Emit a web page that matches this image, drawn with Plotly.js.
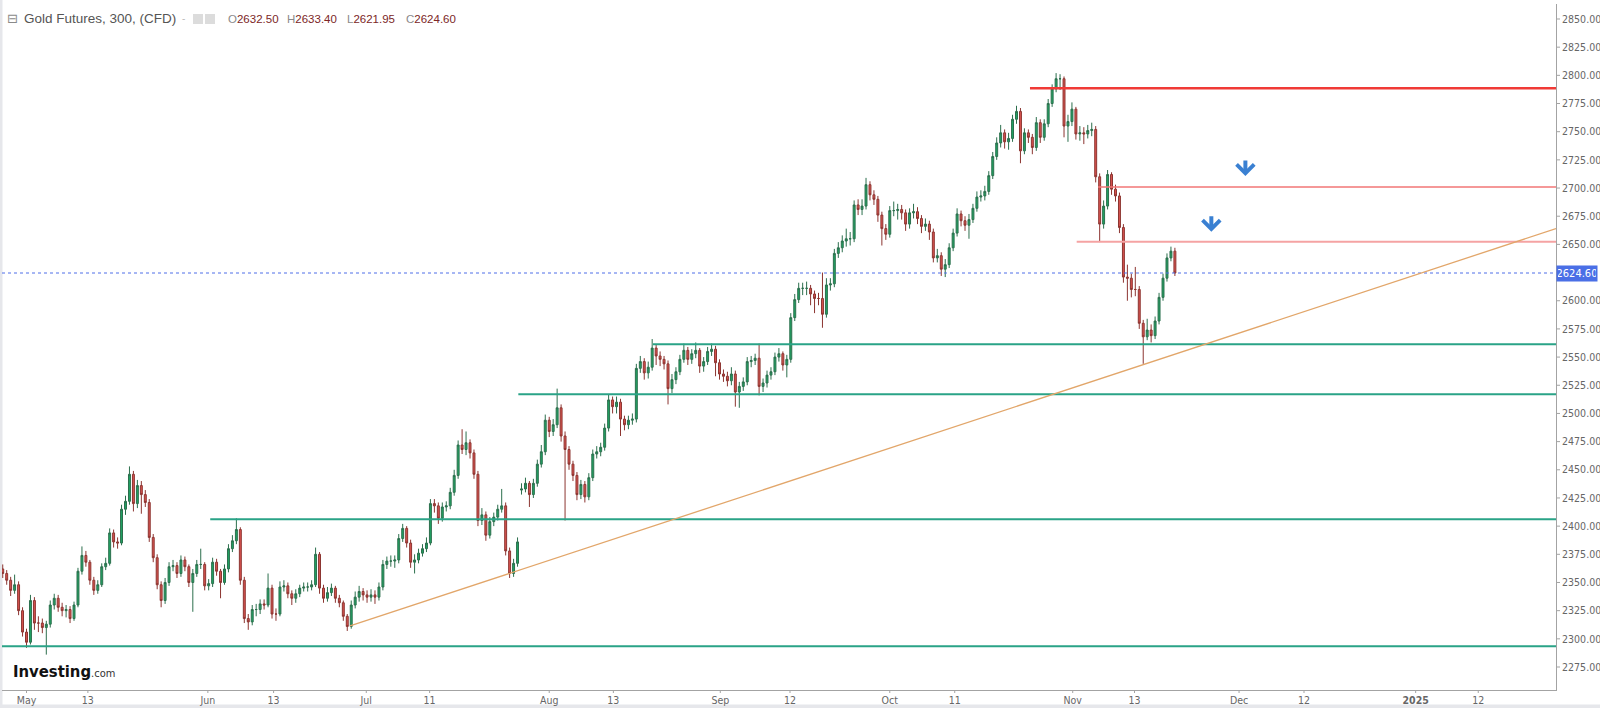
<!DOCTYPE html>
<html>
<head>
<meta charset="utf-8">
<script src="https://cdn.plot.ly/plotly-3.0.1.min.js"></script>
<style>
html,body{margin:0;padding:0;background:#fff;}
#chart{width:1600px;height:708px;}
</style>
</head>
<body>
<div id="chart"></div>
<script>
// ---- DATA ----
// candles: half trading-day steps, first candle 3 trading days before May 1
const firstOpen = 2362;
const gapOpens = {131: 2432}; // contract roll gap
const closes = [
2358,2352,2343,2348,2325,2306,2297,2334,2314,2314,
2310,2313,2330,2336,2328,2325,2326,2318,2330,2360,
2374,2368,2352,2343,2348,2364,2367,2394,2386,2385,
2415,2422,2446,2420,2436,2428,2421,2390,2372,2348,
2334,2350,2364,2365,2358,2370,2364,2350,2358,2366,
2366,2347,2349,2368,2360,2350,2362,2380,2387,2397,
2352,2318,2315,2326,2326,2331,2330,2345,2322,2322,
2346,2347,2340,2336,2340,2345,2346,2346,2348,2375,
2345,2336,2341,2345,2336,2332,2320,2311,2330,2337,
2342,2339,2337,2339,2337,2346,2366,2369,2369,2370,
2389,2398,2385,2368,2370,2376,2380,2385,2420,2418,
2407,2417,2418,2430,2445,2472,2468,2474,2465,2446,
2405,2410,2392,2404,2408,2415,2418,2378,2358,2367,
2386,2433,2438,2428,2438,2455,2466,2494,2484,2490,
2505,2480,2468,2455,2445,2428,2437,2426,2443,2464,
2466,2470,2487,2512,2506,2510,2495,2490,2494,2495,
2540,2546,2536,2541,2558,2551,2548,2544,2522,2530,
2537,2548,2556,2548,2553,2556,2542,2546,2555,2557,
2545,2535,2533,2529,2535,2519,2524,2528,2546,2547,
2549,2524,2527,2534,2537,2550,2553,2543,2548,2585,
2601,2611,2611,2611,2606,2602,2602,2588,2614,2615,
2642,2647,2653,2655,2655,2685,2681,2684,2703,2694,
2690,2676,2664,2659,2680,2680,2681,2678,2668,2678,
2679,2673,2666,2668,2661,2638,2640,2628,2632,2647,
2660,2677,2671,2667,2672,2682,2692,2693,2697,2711,
2728,2740,2749,2741,2744,2761,2768,2733,2749,2745,
2736,2758,2745,2757,2775,2788,2797,2797,2755,2759,
2770,2748,2749,2748,2751,2752,2710,2668,2684,2712,
2699,2693,2665,2621,2620,2610,2610,2580,2568,2574,
2569,2582,2603,2620,2638,2644,2624.6
];
const highs = [
2366,2361,2355,2357,2351,2328,2309,2339,2337,2320,
2318,2316,2334,2340,2339,2332,2330,2329,2333,2363,
2382,2378,2370,2355,2352,2367,2372,2398,2397,2390,
2419,2427,2453,2449,2441,2440,2432,2424,2393,2375,
2351,2354,2368,2370,2368,2374,2373,2366,2362,2370,
2380,2368,2353,2372,2371,2362,2366,2384,2392,2407,
2399,2355,2322,2330,2331,2335,2335,2358,2348,2327,
2351,2352,2350,2343,2344,2348,2350,2350,2352,2381,
2377,2348,2346,2349,2347,2339,2334,2322,2334,2342,
2347,2345,2343,2344,2343,2350,2370,2373,2374,2374,
2393,2402,2400,2388,2375,2380,2384,2390,2424,2424,
2421,2421,2422,2434,2450,2476,2486,2484,2477,2468,
2449,2416,2413,2408,2412,2419,2433,2421,2381,2371,
2390,2438,2443,2440,2442,2459,2472,2499,2497,2495,
2522,2508,2484,2471,2458,2448,2441,2440,2447,2468,
2471,2474,2491,2517,2515,2515,2513,2498,2498,2500,
2544,2551,2549,2546,2566,2561,2555,2551,2547,2535,
2541,2552,2562,2559,2557,2563,2558,2550,2559,2562,
2560,2548,2539,2537,2541,2538,2528,2532,2550,2551,
2553,2562,2531,2538,2541,2554,2558,2555,2552,2589,
2606,2616,2616,2617,2614,2609,2607,2625,2620,2620,
2646,2652,2658,2664,2661,2689,2690,2690,2709,2706,
2698,2693,2679,2668,2684,2688,2686,2685,2681,2682,
2686,2683,2676,2673,2671,2664,2646,2643,2637,2651,
2664,2682,2680,2675,2677,2686,2697,2698,2702,2715,
2732,2745,2756,2752,2749,2765,2773,2771,2753,2752,
2748,2763,2761,2761,2779,2792,2802,2801,2799,2765,
2776,2772,2755,2754,2756,2758,2755,2713,2689,2716,
2714,2703,2696,2668,2632,2624,2630,2613,2583,2584,
2579,2586,2607,2624,2642,2648,2647
];
const lows = [
2354,2348,2338,2340,2321,2302,2292,2295,2308,2306,
2305,2286,2310,2326,2324,2320,2319,2314,2316,2328,
2357,2364,2348,2339,2340,2346,2361,2365,2381,2380,
2383,2410,2419,2413,2416,2411,2417,2386,2368,2344,
2328,2331,2347,2360,2354,2355,2360,2346,2324,2355,
2362,2343,2343,2346,2356,2336,2348,2359,2377,2384,
2348,2314,2308,2312,2320,2322,2326,2328,2318,2316,
2320,2342,2336,2330,2332,2337,2342,2342,2343,2346,
2340,2332,2333,2338,2332,2328,2316,2307,2309,2327,
2333,2334,2332,2333,2331,2334,2343,2362,2364,2363,
2367,2386,2381,2363,2358,2367,2373,2377,2383,2412,
2402,2404,2413,2415,2427,2442,2464,2463,2460,2442,
2400,2401,2387,2389,2400,2405,2412,2374,2354,2355,
2364,2428,2430,2417,2425,2435,2452,2463,2479,2480,
2487,2475,2405,2450,2440,2423,2424,2421,2423,2440,
2460,2462,2467,2484,2500,2500,2480,2485,2486,2490,
2492,2536,2530,2531,2538,2543,2542,2539,2508,2518,
2526,2534,2545,2543,2544,2549,2536,2537,2543,2551,
2533,2530,2528,2524,2525,2506,2505,2520,2525,2541,
2543,2516,2519,2523,2530,2534,2546,2538,2532,2545,
2582,2598,2605,2605,2596,2589,2596,2576,2585,2609,
2612,2638,2643,2648,2649,2652,2676,2676,2681,2689,
2685,2670,2649,2654,2656,2675,2672,2672,2662,2664,
2673,2668,2660,2662,2654,2634,2634,2622,2621,2629,
2644,2657,2666,2662,2655,2669,2679,2688,2689,2694,
2708,2725,2736,2735,2734,2741,2757,2722,2730,2740,
2730,2733,2740,2742,2754,2772,2785,2787,2745,2741,
2755,2743,2742,2739,2744,2746,2705,2652,2664,2681,
2694,2688,2660,2616,2600,2603,2604,2575,2544,2565,
2563,2566,2579,2600,2617,2635,2621.95
];
// x-axis labels (trading-day positions, May 1 = 0)
const tickLabels = ['May','13','Jun','13','Jul','11','Aug','13','Sep','12','Oct','11','Nov','13','Dec','12','<b>2025</b>','12'];
const tickDays   = [0,7.75,22.9,31.2,42.9,50.9,66.0,74.1,87.6,96.4,109.0,117.2,132.1,139.9,153.1,161.3,175.4,183.3];
// price levels drawn on the chart
const resistanceLevels = [2788.5, 2701, 2652.4];
const supportLevels = [2561.4, 2517, 2406, 2293.5];
const lastPrice = 2624.6;
const header = {name:'Gold Futures, 300, (CFD)', O:'2632.50', H:'2633.40', L:'2621.95', C:'2624.60'};

// ---- BUILD ----
const N = closes.length;
const xs = [], opens = [];
for (let k = 0; k < N; k++) {
  xs.push(k / 2 - 3);
  opens.push(k === 0 ? firstOpen : (gapOpens[k] !== undefined ? gapOpens[k] : closes[k - 1]));
}
const X0 = -3.093, X1 = 193.118;
const Y0 = 2254.6, Y1 = 2863.3;

const yTicks = [];
for (let v = 2275; v <= 2850; v += 25) if (v !== 2625) yTicks.push(v);

const narrow = 'Liberation Sans Narrow, DejaVu Sans Condensed, Liberation Sans, sans-serif';

const trace = {
  type: 'candlestick', x: xs, open: opens, high: highs, low: lows, close: closes,
  increasing: {line: {color: '#2c6f4d', width: 1}, fillcolor: '#20a363'},
  decreasing: {line: {color: '#8c3531', width: 1}, fillcolor: '#d9534f'},
  whiskerwidth: 0, hoverinfo: 'skip'
};

function hline(x0, y, color, width, dash) {
  return {type: 'line', xref: 'x', yref: 'y', x0: x0, x1: X1, y0: y, y1: y,
          line: {color: color, width: width, dash: dash || 'solid'}};
}
const shapes = [
  hline(126.7, resistanceLevels[0], '#f03a36', 2.5),
  hline(135.3, resistanceLevels[1], '#f27676', 1.5),
  hline(132.6, resistanceLevels[2], '#f5a3a3', 2),
  hline(79.1, supportLevels[0], '#2aa387', 2),
  hline(62.1, supportLevels[1], '#2aa387', 2),
  hline(23.2, supportLevels[2], '#2aa387', 2),
  hline(X0, supportLevels[3], '#2aa387', 2),
  hline(X0, lastPrice, '#4f6fe8', 1, 'dot'),
  {type: 'line', xref: 'x', yref: 'y', x0: 40.85, y0: 2311.4, x1: X1, y1: 2664.0,
   line: {color: '#e2a66a', width: 1.3}},
  // header icons
  {type: 'rect', xref: 'paper', yref: 'paper', x0: (193-2)/1554, x1: (203-2)/1554, y0: (690-24)/686, y1: (690-14)/686,
   fillcolor: '#dcdcdc', line: {width: 0}},
  {type: 'rect', xref: 'paper', yref: 'paper', x0: (205-2)/1554, x1: (215-2)/1554, y0: (690-24)/686, y1: (690-14)/686,
   fillcolor: '#dcdcdc', line: {width: 0}},
  // outer frame strips
  {type: 'rect', xref: 'paper', yref: 'paper', x0: -2/1554, x1: 0.5/1554, y0: -18/686, y1: 690/686,
   fillcolor: '#e6e7eb', line: {width: 0}, layer: 'below'},
  {type: 'rect', xref: 'paper', yref: 'paper', x0: -2/1554, x1: 1598/1554, y0: -18/686, y1: -14.5/686,
   fillcolor: '#e6e7eb', line: {width: 0}, layer: 'below'}
];
// x tick marks (below the axis line) and y tick marks (right of the axis line)
tickDays.forEach(d => shapes.push({type: 'line', xref: 'x', yref: 'paper', x0: d, x1: d, y0: 0, y1: -3/686,
  line: {color: '#a3a3a3', width: 1}}));
yTicks.forEach(v => shapes.push({type: 'line', xref: 'paper', yref: 'y', x0: 1, x1: 1 + 4/1554, y0: v, y1: v,
  line: {color: '#a3a3a3', width: 1}}));

const hdrY = (690 - 19) / 686;
function px(p) { return (p - 2) / 1554; }
function ohlc(letter, val, pos) {
  return {xref: 'paper', yref: 'paper', x: px(pos), y: hdrY, xanchor: 'left', yanchor: 'middle', showarrow: false,
    text: '<span style="color:#8a8a8a">' + letter + '</span><span style="color:#7c2626">' + val + '</span>',
    font: {family: 'Liberation Sans, sans-serif', size: 11.5}};
}
function arrow(x, y) {
  return {x: x, y: y, xref: 'x', yref: 'y', ax: 0, ay: -17, showarrow: true, text: '',
          arrowhead: 4, arrowsize: 0.85, arrowwidth: 4, arrowcolor: '#3a80d2'};
}
const annotations = [
  {xref: 'paper', yref: 'paper', x: px(5), y: hdrY, xanchor: 'left', yanchor: 'middle', showarrow: false,
   text: '⊟', font: {family: 'DejaVu Sans', size: 13, color: '#8a8a8a'}},
  {xref: 'paper', yref: 'paper', x: px(22), y: hdrY, xanchor: 'left', yanchor: 'middle', showarrow: false,
   text: header.name, font: {family: 'Liberation Sans, sans-serif', size: 13.5, color: '#555'}},
  {xref: 'paper', yref: 'paper', x: px(180), y: hdrY, xanchor: 'left', yanchor: 'middle', showarrow: false,
   text: '-', font: {family: 'Liberation Sans, sans-serif', size: 10, color: '#bbb'}},
  ohlc('O', header.O, 226), ohlc('H', header.H, 285), ohlc('L', header.L, 345), ohlc('C', header.C, 404),
  {xref: 'paper', yref: 'y', x: 1, y: lastPrice, xanchor: 'left', yanchor: 'middle', showarrow: false,
   text: lastPrice.toFixed(2), bgcolor: '#4a6fe6', borderpad: 1,
   font: {family: narrow, size: 11, color: '#ffffff'}, width: 38},
  {xref: 'paper', yref: 'paper', x: px(11), y: (690 - 671) / 686, xanchor: 'left', yanchor: 'middle', showarrow: false,
   text: '<b>Investing</b><span style="font-size:11px;color:#333">.com</span>',
   font: {family: narrow, size: 16.5, color: '#111'}},
  arrow(153.9, 2710.7),
  arrow(149.6, 2661.3)
];

const layout = {
  width: 1600, height: 708,
  margin: {l: 2, r: 44, t: 4, b: 18, pad: 0},
  paper_bgcolor: '#ffffff', plot_bgcolor: '#ffffff',
  showlegend: false, hovermode: false, dragmode: false,
  xaxis: {type: 'linear', range: [X0, X1], tickvals: tickDays, ticktext: tickLabels,
    showgrid: false, zeroline: false, showline: true, linecolor: '#a3a3a3', linewidth: 1,
    ticks: '',
    tickfont: {family: narrow, size: 10.5, color: '#666'},
    rangeslider: {visible: false}, fixedrange: true},
  yaxis: {side: 'right', range: [Y0, Y1], tickvals: yTicks, ticktext: yTicks.map(v => v.toFixed(2)),
    showgrid: false, zeroline: false, showline: true, linecolor: '#a3a3a3', linewidth: 1,
    ticks: '', ticklabelstandoff: 3,
    tickfont: {family: narrow, size: 10.5, color: '#666'}, fixedrange: true},
  shapes: shapes,
  annotations: annotations
};

Plotly.newPlot('chart', [trace], layout, {displayModeBar: false, staticPlot: true});
</script>
</body>
</html>
